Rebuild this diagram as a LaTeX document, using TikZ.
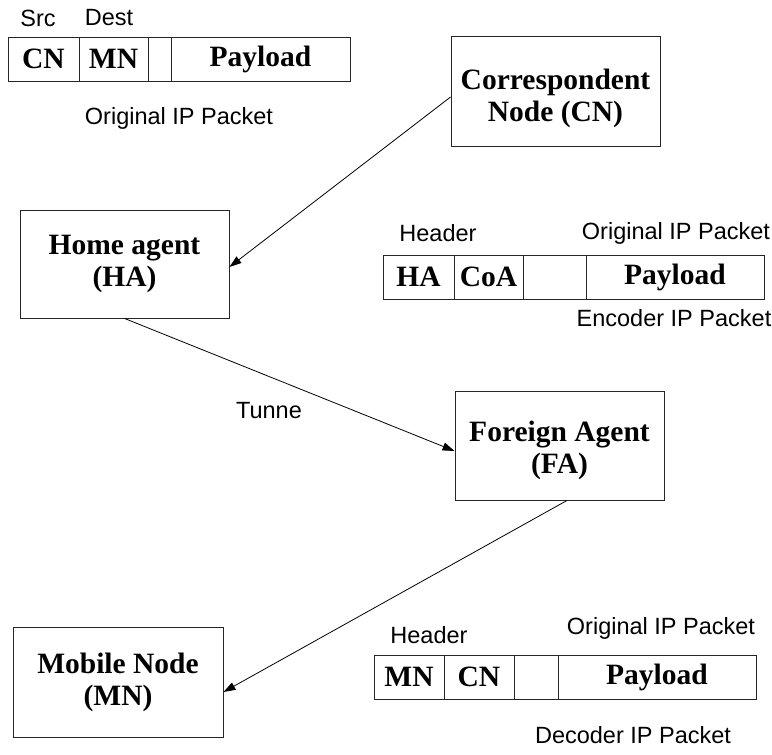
\documentclass[tikz,border=0pt]{standalone}
\usepackage{fontspec}
\setmainfont{Liberation Serif}
\setsansfont{Liberation Sans}
\usetikzlibrary{arrows.meta,calc}
\tikzset{
  entity/.style={draw=black!85, line width=0.9pt, inner sep=0pt, align=center,
    font=\fontsize{29.5}{32}\selectfont\bfseries},
  etext/.style={inner sep=0pt, align=center, font=\fontsize{29.5}{32}\selectfont\bfseries},
  field/.style={draw=black!85, line width=0.9pt, inner sep=0pt, minimum height=44,
    font=\fontsize{29.5}{32}\selectfont\bfseries},
  lbl/.style={inner sep=0pt, font=\sffamily\fontsize{23.5}{26}\selectfont},
  arr/.style={line width=0.8pt, -{Triangle[length=12pt,width=8pt]}},
  plain/.style={line width=0.8pt}
}
\begin{document}
\begin{tikzpicture}[x=1pt,y=-1pt]
\useasboundingbox (0,0) rectangle (772,755);
% entities
\node[entity, minimum width=209, minimum height=110,
  label={[etext, yshift=-7pt]center:Correspondent\\Node (CN)}] (cn) at (555.5,91) {};
\node[entity, minimum width=209, minimum height=108] (ha) at (124.5,264) {Home agent\\(HA)};
\node[entity, minimum width=209, minimum height=109,
  label={[etext, yshift=-5pt]center:Foreign Agent\\(FA)}] (fa) at (559.5,445.5) {};
\node[entity, minimum width=210, minimum height=110] (mn) at (118,682) {Mobile Node\\(MN)};
% original packet
\node[field, minimum width=71] (p1a) at (43.5,59) {CN};
\node[field, minimum width=69] (p1b) at (113.5,59) {MN};
\node[field, minimum width=23] (p1c) at (159.5,59) {};
\node[field, minimum width=179] (p1d) at (260.5,59) {Payload};
\node[lbl] (src) at (38,18) {Src};
\node[lbl] (dest) at (109,18) {Dest};
\node[lbl] (orig1) at (179,118) {Original IP Packet};
% encoder packet
\node[field, minimum width=71] (e1) at (418.5,277) {HA};
\node[field, minimum width=69] (e2) at (488.5,277) {CoA};
\node[field, minimum width=63] (e3) at (554.5,277) {};
\node[field, minimum width=178] (e4) at (675,277) {Payload};
\node[lbl] (hdr1) at (438,233) {Header};
\node[lbl] (orig2) at (676,233) {Original IP Packet};
\node[lbl] (enc) at (674,318) {Encoder IP Packet};
% decoder packet
\node[field, minimum width=70] (d1) at (409,677) {MN};
\node[field, minimum width=70] (d2) at (479,677) {CN};
\node[field, minimum width=44] (d3) at (536,677) {};
\node[field, minimum width=198] (d4) at (657,677) {Payload};
\node[lbl] (hdr2) at (429,635) {Header};
\node[lbl] (orig3) at (661,628) {Original IP Packet};
\node[lbl] (dec) at (633,735) {Decoder IP Packet};
% tunnel label
\node[lbl] (tun) at (269,411) {Tunne};
% connectors
\draw[arr] ($(cn.west)+(0,6)$) -- ($(ha.east)+(0,3)$);
\draw[arr] (ha.south) -- ($(fa.west)+(0,5.5)$);
\draw[arr] ($(fa.south)+(7.5,0)$) -- ($(mn.east)+(0,10)$);
\end{tikzpicture}
\end{document}
